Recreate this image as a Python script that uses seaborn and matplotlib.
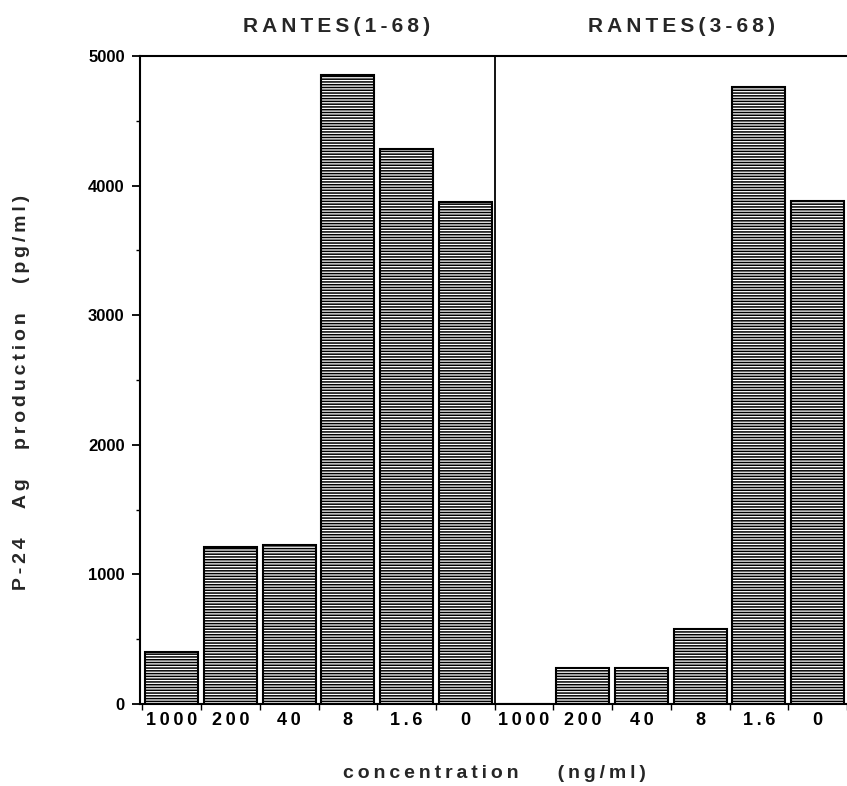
import matplotlib
matplotlib.use("Agg")
import matplotlib.pyplot as plt
import seaborn as sns
import pandas as pd
import numpy as np

# ---- data ----
panels = ["RANTES(1-68)", "RANTES(3-68)"]
concentrations = ["1000", "200", "40", "8", "1.6", "0"]
values_1_68 = [400, 1210, 1230, 4850, 4280, 3870]
values_3_68 = [0, 275, 275, 575, 4760, 3885]
y_ticks = [0, 1000, 2000, 3000, 4000, 5000]

rows = []
for p, vals in zip(panels, [values_1_68, values_3_68]):
    for c, v in zip(concentrations, vals):
        rows.append({"slot": f"{p} {c}", "panel": p, "conc": c, "value": v})
df = pd.DataFrame(rows)
order = list(df["slot"])

sns.set_theme(style="white")
plt.rcParams["font.family"] = ["Liberation Sans", "DejaVu Sans"]
plt.rcParams["hatch.linewidth"] = 1.1
plt.rcParams["hatch.color"] = "black"

TH = "\u2009"      # thin space
EN = "\u2002"      # en space


def spaced(s, sep, word_gap):
    words = s.split(" ")
    return word_gap.join(sep.join(w) for w in words)


fig = plt.figure(figsize=(8.47, 7.86), dpi=100)
ax = fig.add_axes([140 / 847, 82 / 786, 707 / 847, 648 / 786])

sns.barplot(data=df, x="slot", y="value", order=order, ax=ax,
            color="white", width=0.9, edgecolor="black", linewidth=1.5,
            errorbar=None, saturation=1)
for bar in ax.patches:
    bar.set_hatch("------")
    bar.set_facecolor("white")
    bar.set_edgecolor("black")

ax.set_xlim(-0.54, 11.38)
ax.set_ylim(0, 5000)

# y axis ticks
ax.set_yticks(y_ticks)
ax.set_yticklabels([str(t) for t in y_ticks], fontsize=12, fontweight="bold")
ax.set_yticks(np.arange(500, 5000, 1000), minor=True)
ax.tick_params(axis="y", which="major", direction="out", length=6, width=1.3,
               left=True, pad=5, colors="black")
ax.tick_params(axis="y", which="minor", direction="out", length=3, width=1.0,
               left=True, colors="black")

# x axis: labels under bars, small ticks between bars
ax.set_xticks(range(len(order)))
ax.set_xticklabels([spaced(c, TH, TH) for c in df["conc"]], fontsize=13,
                   fontweight="bold")
ax.set_xticks(np.arange(-0.5, 11.6, 1.0), minor=True)
ax.tick_params(axis="x", which="major", length=0, pad=6, colors="black")
ax.tick_params(axis="x", which="minor", direction="out", length=4, width=1.0,
               bottom=True, colors="black")

for s in ["left", "bottom", "top"]:
    ax.spines[s].set_visible(True)
    ax.spines[s].set_color("black")
    ax.spines[s].set_linewidth(1.5)
ax.spines["right"].set_visible(False)

# divider between panels
ax.axvline(5.5, color="black", linewidth=1.3)

ax.set_xlabel("")
ax.set_ylabel("")

# panel titles
fig.text(337 / 847, 1 - 27 / 786, spaced("RANTES(1-68)", TH, TH), ha="center",
         va="center", fontsize=15, fontweight="bold")
fig.text(681 / 847, 1 - 27 / 786, spaced("RANTES(3-68)", TH, TH), ha="center",
         va="center", fontsize=15, fontweight="bold")

# axis labels
fig.text(22 / 847, 1 - 392 / 786,
         spaced("P-24 Ag production (pg/ml)", TH, EN * 3),
         rotation=90, ha="center", va="center", fontsize=14,
         fontweight="bold")
fig.text(494 / 847, 1 - 773 / 786,
         spaced("concentration (ng/ml)", TH, EN * 4),
         ha="center", va="center", fontsize=14, fontweight="bold")

fig.savefig("out.png", dpi=100)
